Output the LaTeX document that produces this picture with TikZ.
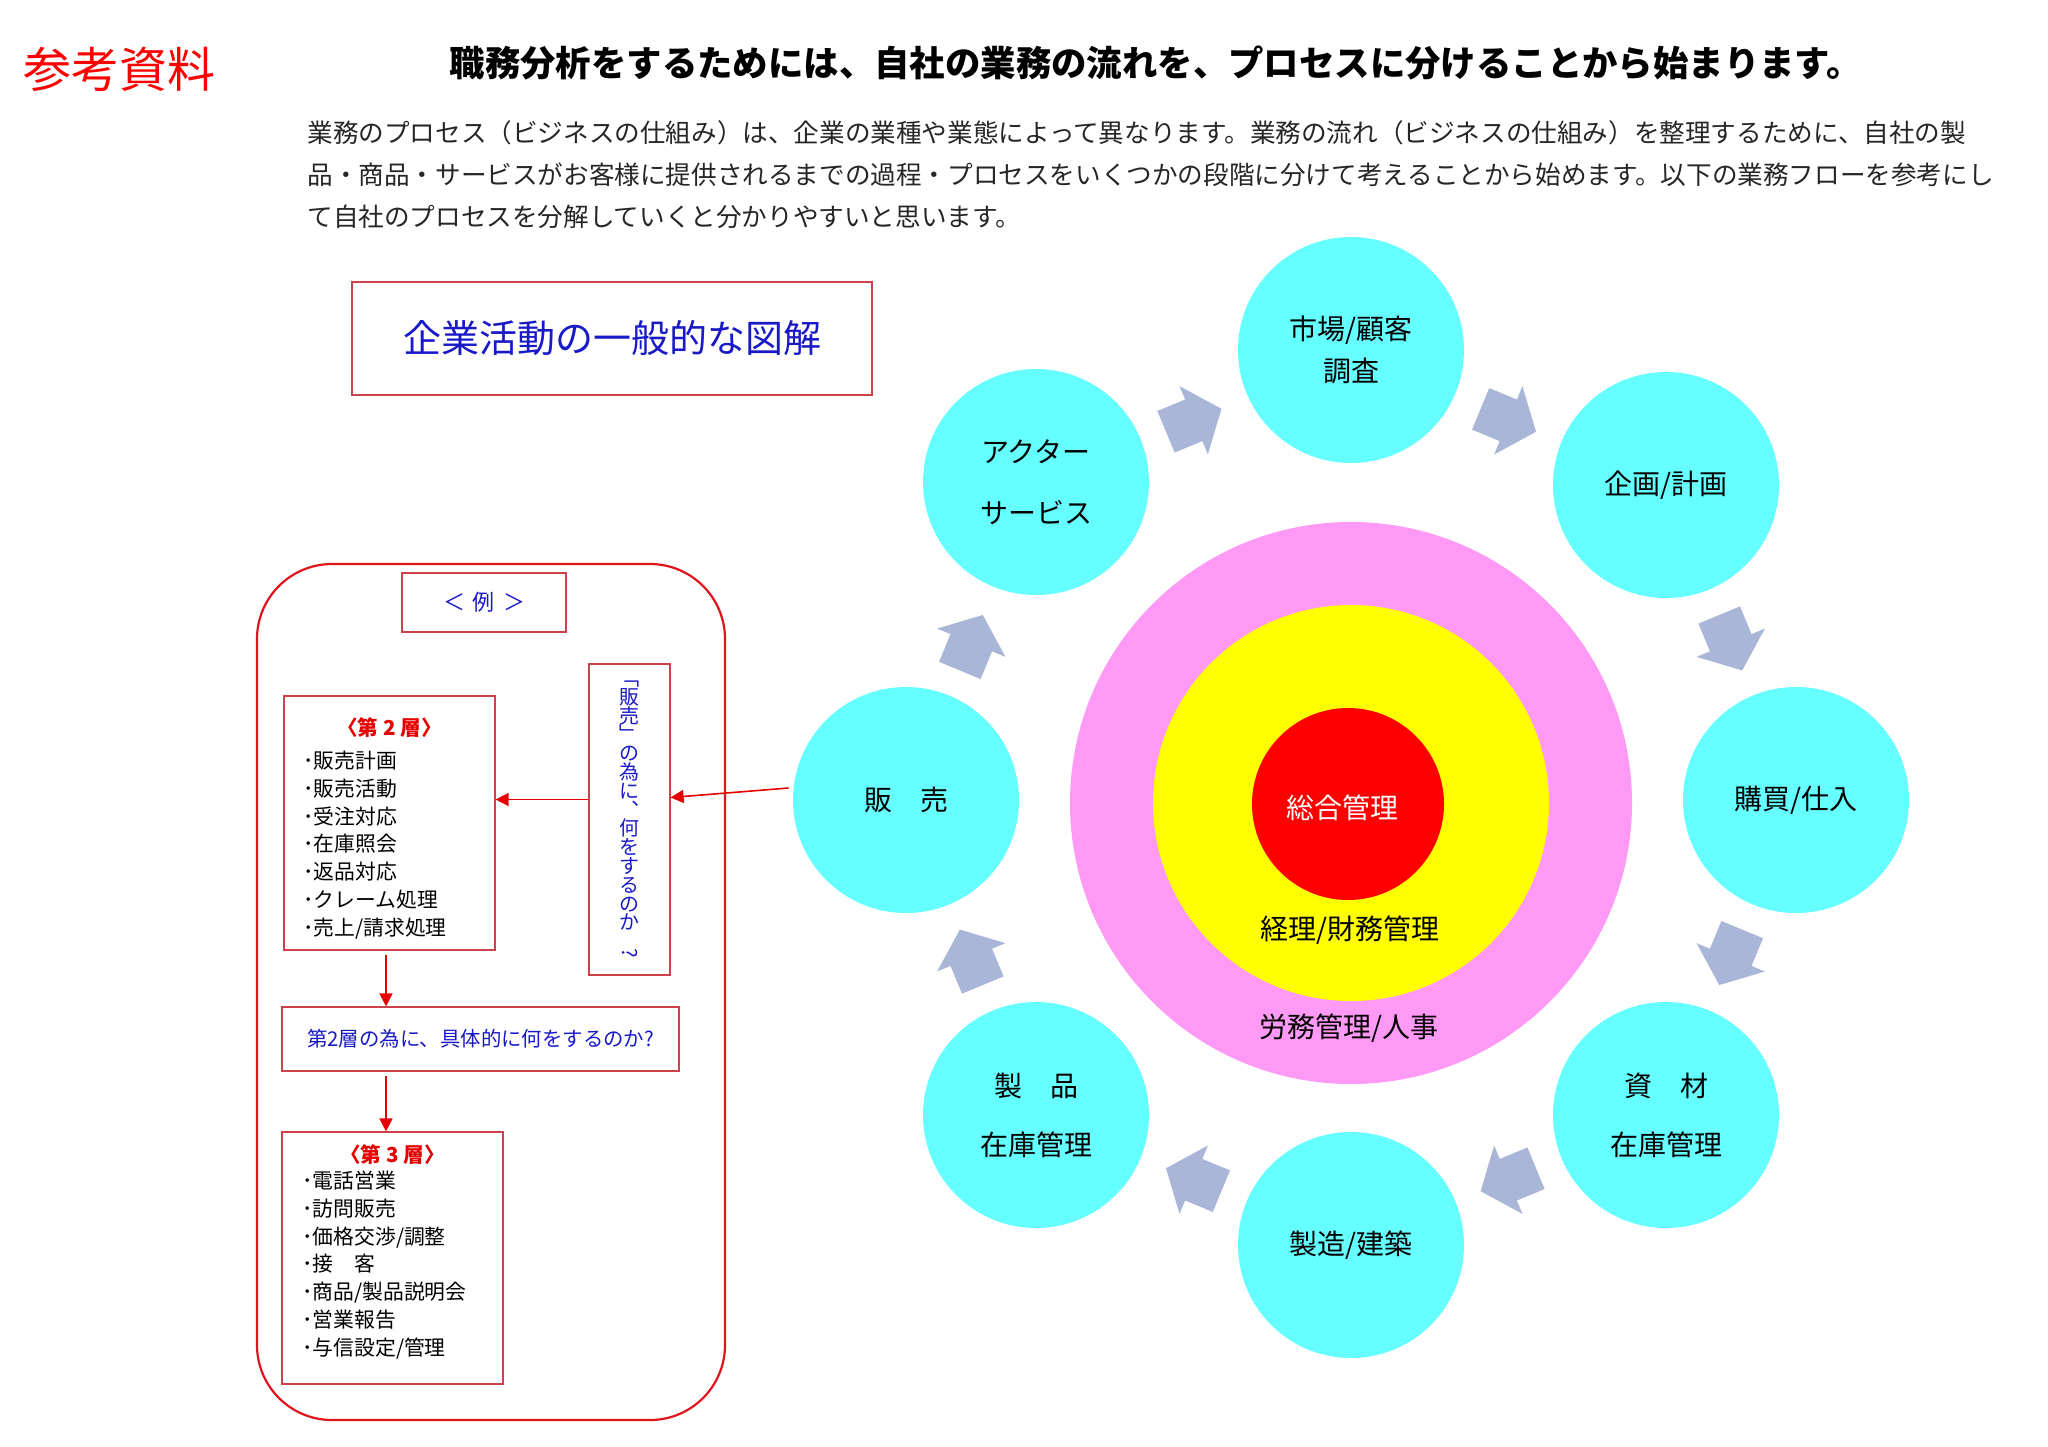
\documentclass[tikz,border=0pt]{standalone}
\usepackage{fontspec}
\setmainfont{Noto Sans CJK JP}
\usetikzlibrary{arrows.meta,positioning}
\definecolor{stagecyan}{RGB}{102,255,255}
\definecolor{ringpink}{RGB}{255,153,246}
\definecolor{ringyellow}{RGB}{255,255,0}
\definecolor{ringred}{RGB}{255,0,0}
\definecolor{flowblue}{RGB}{170,182,216}
\definecolor{boxred}{RGB}{205,65,75}
\definecolor{framered}{RGB}{225,20,30}
\definecolor{arrowred}{RGB}{230,0,0}
\definecolor{textblue}{RGB}{25,25,200}
\newcommand{\tatefont}{\fontsize{10}{9.4}\selectfont\lineskiplimit-20pt\relax}
\tikzset{
  stage-node/.style  = {circle, fill=stagecyan, minimum size=113pt, inner sep=0pt, align=center, font=\fontsize{14}{21}\selectfont},
  ring/.style        = {circle, inner sep=0pt},
  ring-label/.style  = {inner sep=0pt, font=\fontsize{14}{16}\selectfont},
  text-box/.style    = {rectangle, draw=boxred, line width=0.6pt, text=textblue, align=center},
  layer-box/.style   = {rectangle, draw=boxred, line width=0.6pt},
  layer-title/.style = {inner sep=0pt, text=arrowred, font=\bfseries\fontsize{10.3}{12}\selectfont},
  item-list/.style   = {anchor=west, align=left, inner sep=0pt, font=\fontsize{10.4}{13.9}\selectfont},
  red-arrow/.style   = {draw=arrowred, line width=0.8pt, -{Triangle[length=6.5pt,width=6.5pt]}},
  flow-arrow/.pic    = {\fill[flowblue] (-30,-22.5) -- (0,-22.5) -- (0,-37) -- (30,0) -- (0,37) -- (0,22.5) -- (-30,22.5) -- cycle;},
}
\begin{document}
\begin{tikzpicture}
  [
    x = 0.5pt,
    y = -0.5pt
  ]
  \useasboundingbox[fill=white] (0,0) rectangle (2048,1446);

  % heading and intro
  \node [inner sep=0pt, text=red, font=\fontsize{24}{28}\selectfont] (sanko) at (119.5,69.5) {参考資料};
  \node [inner sep=0pt, font=\bfseries\fontsize{17.7}{20}\selectfont] (midashi) at (1156,62.5)
    {職務分析をするためには、自社の業務の流れを、プロセスに分けることから始まります。};
  \node [anchor=west, align=left, inner sep=0pt, text=black!85, font=\fontsize{12.8}{21}\selectfont] (setsumei) at (307,175)
    {業務のプロセス（ビジネスの仕組み）は、企業の業種や業態によって異なります。業務の流れ（ビジネスの仕組み）を整理するために、自社の製\\
     品・商品・サービスがお客様に提供されるまでの過程・プロセスをいくつかの段階に分けて考えることから始めます。以下の業務フローを参考にし\\
     て自社のプロセスを分解していくと分かりやすいと思います。};

  \node [text-box, minimum width=260pt, minimum height=56.5pt, font=\fontsize{19}{22}\selectfont] (zukai) at (612,338.5) {企業活動の一般的な図解};

  % rings in the middle
  \node [ring, fill=ringpink, minimum size=281pt] (romu) at (1351,803) {};
  \node [ring, fill=ringyellow, minimum size=198pt] (keiri) at (1351,803) {};
  \node [ring, fill=ringred, minimum size=96pt] (sogo) at (1348,804) {};
  \node [ring-label, text=white] (sogo-label) at (1342,808) {総合管理};
  \node [ring-label] (keiri-label) at (1350,930) {経理/財務管理};
  \node [ring-label] (romu-label) at (1349,1028) {労務管理/人事};

  % business cycle
  \node [stage-node] (shijo) at (1351,350) {市場/顧客\\調査};
  \node [stage-node] (kikaku) at (1666,485) {企画/計画};
  \node [stage-node] (kobai) at (1796,800) {購買/仕入};
  \node [stage-node, font=\fontsize{14}{29.5}\selectfont] (shizai) at (1666,1115) {資　材\\在庫管理};
  \node [stage-node] (seizo) at (1351,1245) {製造/建築};
  \node [stage-node, font=\fontsize{14}{29.5}\selectfont] (seihin) at (1036,1115) {製　品\\在庫管理};
  \node [stage-node] (hanbai) at (906,800) {販　売};
  \node [stage-node, font=\fontsize{14}{30.5}\selectfont] (actor) at (1036,482) {アクター\\サービス};

  \pic [rotate=22.5] at (1193.7,420.3) {flow-arrow};
  \pic [rotate=-22.5] at (1508.3,420.3) {flow-arrow};
  \pic [rotate=-67.5] at (1730.7,642.7) {flow-arrow};
  \pic [rotate=-112.5] at (1730.7,957.3) {flow-arrow};
  \pic [rotate=-157.5] at (1508.3,1179.7) {flow-arrow};
  \pic [rotate=157.5] at (1193.7,1179.7) {flow-arrow};
  \pic [rotate=112.5] at (971.3,957.3) {flow-arrow};
  \pic [rotate=67.5] at (971.3,642.7) {flow-arrow};

  % example panel
  \node [draw=framered, line width=1.1pt, rounded corners=37.5pt, minimum width=234pt, minimum height=428pt] (rei-frame) at (491,992) {};
  \node [text-box, minimum width=82pt, minimum height=29.5pt, font=\fontsize{11}{13}\selectfont] (rei) at (484,602.5) {＜\hspace{4pt}例\hspace{4pt}＞};
  \node [text-box, minimum width=40.5pt, minimum height=155.5pt, inner sep=0pt, font=\tatefont] (tate) at (629.5,819.5)
    {﹁\\販\\売\\﹂\\の\\為\\に\\︑\\何\\を\\す\\る\\の\\か\\\rotatebox{-90}{?}};

  \node [layer-box, minimum width=105.5pt, minimum height=127pt] (l2) at (389.5,823) {};
  \node [layer-title, below=11pt of l2.north] (l2-title) {〈第 2 層〉};
  \node [item-list] (l2-items) at (303,845)
    {･販売計画\\･販売活動\\･受注対応\\･在庫照会\\･返品対応\\･クレーム処理\\･売上/請求処理};

  \node [text-box, minimum width=198.5pt, minimum height=32pt, font=\fontsize{10.2}{12}\selectfont] (q2) at (480.5,1039)
    {第2層の為に、具体的に何をするのか?};

  \node [layer-box, minimum width=110.5pt, minimum height=126pt] (l3) at (392.5,1258) {};
  \node [layer-title, below=6.5pt of l3.north] (l3-title) {〈第 3 層〉};
  \node [item-list] (l3-items) at (302,1265)
    {･電話営業\\･訪問販売\\･価格交渉/調整\\･接　客\\･商品/製品説明会\\･営業報告\\･与信設定/管理};

  % connectors
  \coordinate (hanbai-out) at ([xshift=-2pt,yshift=6pt]hanbai.west);
  \coordinate (tate-in) at ([yshift=11pt]tate.east);
  \coordinate (tate-out) at ([yshift=10pt]tate.west);
  \coordinate (l2-out) at ([xshift=-1.75pt]l2.south);
  \draw [red-arrow] (hanbai-out) -- (tate-in);
  \draw [red-arrow] (tate-out) -- (tate-out -| l2.east);
  \draw [red-arrow, shorten <=2pt] (l2-out) -- (l2-out |- q2.north);
  \draw [red-arrow, shorten <=2pt] (l2-out |- q2.south) -- (l2-out |- l3.north);
\end{tikzpicture}
\end{document}
